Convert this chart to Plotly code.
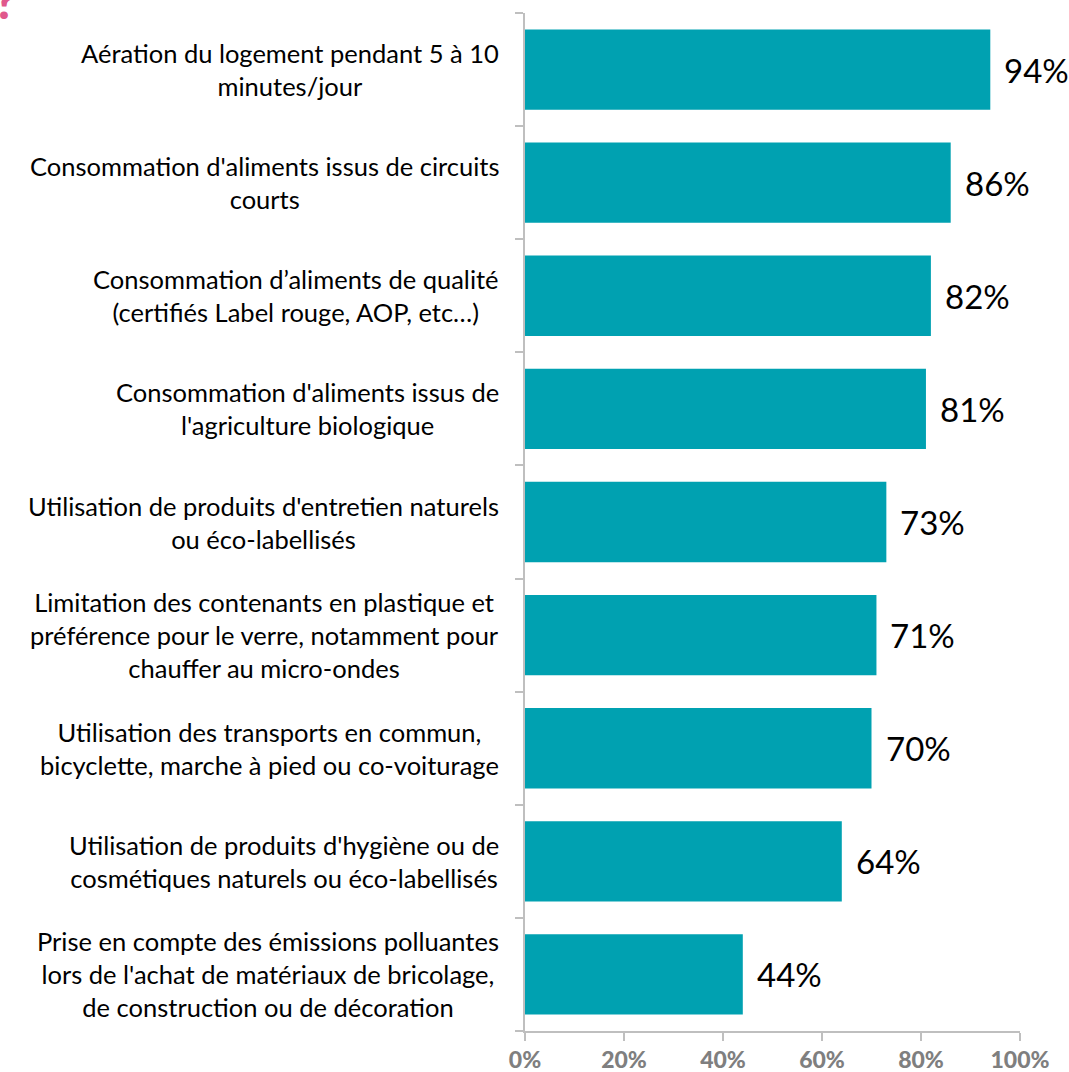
import plotly.graph_objects as go

# Survey items (top to bottom) and share of respondents adopting each practice
categories = [
    "Aération du logement pendant 5 à 10<br>minutes/jour",
    "Consommation d'aliments issus de circuits<br>courts",
    "Consommation d’aliments de qualité<br>(certifiés Label rouge, AOP, etc…)",
    "Consommation d'aliments issus de<br>l'agriculture biologique",
    "Utilisation de produits d'entretien naturels<br>ou éco-labellisés",
    "Limitation des contenants en plastique et<br>préférence pour le verre, notamment pour<br>chauffer au micro-ondes",
    "Utilisation des transports en commun,<br>bicyclette, marche à pied ou co-voiturage",
    "Utilisation de produits d'hygiène ou de<br>cosmétiques naturels ou éco-labellisés",
    "Prise en compte des émissions polluantes<br>lors de l'achat de matériaux de bricolage,<br>de construction ou de décoration",
]
values = [94, 86, 82, 81, 73, 71, 70, 64, 44]
x_ticks = [0, 20, 40, 60, 80, 100]
x_tick_labels = ["0%", "20%", "40%", "60%", "80%", "100%"]

FONT = "Lato"
TEAL = "#00A1B1"
GRID_GREY = "#BFBFBF"

ids = list(range(len(categories)))

fig = go.Figure(
    go.Bar(
        x=values,
        y=ids,
        orientation="h",
        marker=dict(color=TEAL, line=dict(width=0)),
        hoverinfo="skip",
    )
)

annotations = []
# Category labels: centred lines, block right-aligned next to the axis
for i, label in zip(ids, categories):
    annotations.append(dict(
        x=0, xref="paper", xanchor="right", xshift=-24,
        y=i, yref="y", yanchor="middle",
        text=label, align="center", showarrow=False,
        font=dict(family=FONT, size=25.5, color="#000000"),
    ))
# Value labels just past the end of each bar
for i, v in zip(ids, values):
    annotations.append(dict(
        x=v, xref="x", xanchor="left", xshift=12,
        y=i, yref="y", yanchor="middle",
        text=f"{v}%", showarrow=False,
        font=dict(family=FONT, size=33, color="#000000"),
    ))
# Tail of the page heading above the chart
annotations.append(dict(
    x=0, xref="paper", xanchor="left", xshift=-533,
    y=1, yref="paper", yanchor="bottom", yshift=-18,
    text="?", showarrow=False,
    font=dict(family=FONT, size=48, color="#E0588C", weight=900),
))

fig.update_layout(
    width=1069, height=1072,
    margin=dict(l=525, r=49, t=13, b=41),
    paper_bgcolor="white", plot_bgcolor="white",
    showlegend=False,
    bargap=0.29,
    annotations=annotations,
    xaxis=dict(
        range=[0, 100], tickvals=x_ticks, ticktext=x_tick_labels,
        showgrid=False, zeroline=False, automargin=False,
        showline=True, linecolor=GRID_GREY, linewidth=1.5,
        ticks="outside", ticklen=8, tickcolor=GRID_GREY, tickwidth=1.5,
        tickfont=dict(family=FONT, size=23, color="#7F7F7F", weight=900),
    ),
    yaxis=dict(
        type="category", autorange="reversed", automargin=False,
        tickvals=ids, ticktext=[""] * len(ids),
        tickson="boundaries",
        showgrid=False, zeroline=False,
        showline=True, linecolor=GRID_GREY, linewidth=1.5,
        ticks="outside", ticklen=8, tickcolor=GRID_GREY, tickwidth=1.5,
    ),
)

fig.write_html("out.html")
